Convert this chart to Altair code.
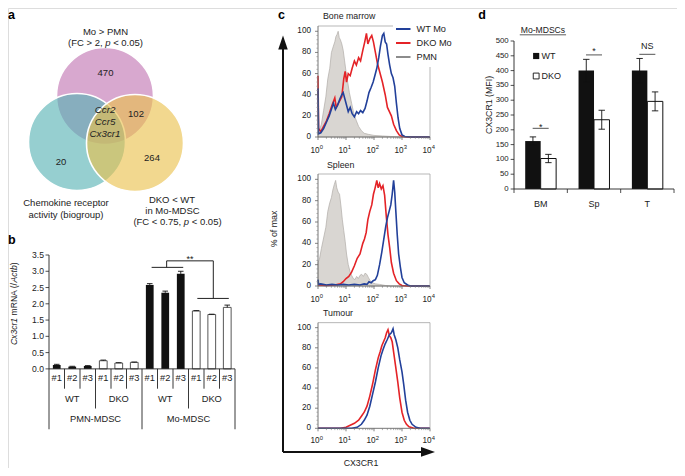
import altair as alt
import pandas as pd
import numpy as np

FONT = "Liberation Sans"
BLUE = "#22409a"
RED = "#e42327"
AX = "#555555"

# ============================ DATA ============================
# (a) Venn diagram
venn_sets = ["Mo > PMN", "Chemokine receptor activity", "DKO < WT in Mo-MDSC"]
venn_cx = [105, 77, 135]          # circle centres in venn layout units
venn_cy = [96, 142, 143]
venn_counts = ["470", "102", "20", "264"]
venn_count_x = [105.5, 136, 61, 152]
venn_count_y = [73, 114, 162, 158]
venn_core = ["Ccr2", "Ccr5", "Cx3cr1"]
venn_core_x = [105, 105, 105]
venn_core_y = [110, 122, 134]

# (b) Cx3cr1 mRNA
b_cell = ["PMN-MDSC"] * 6 + ["Mo-MDSC"] * 6
b_geno = (["WT"] * 3 + ["DKO"] * 3) * 2
b_rep = ["#1", "#2", "#3"] * 4
b_value = [0.12, 0.07, 0.09, 0.25, 0.18, 0.20, 2.58, 2.34, 2.92, 1.78, 1.67, 1.89]
b_err = [0.02, 0.01, 0.01, 0.02, 0.01, 0.01, 0.04, 0.05, 0.08, 0.01, 0.01, 0.07]
b_yticks = [0.0, 0.5, 1.0, 1.5, 2.0, 2.5, 3.0, 3.5]
b_ytick_labels = ["0.0", "0.5", "1.0", "1.5", "2.0", "2.5", "3.0", "3.5"]
b_bracket_h = [(6.12, 8.16, 3.12), (7.09, 10.1, 3.32), (9.07, 11.1, 2.165)]
b_bracket_v = [(7.09, 3.12, 3.32), (10.1, 2.165, 3.32)]
b_sig_text = ["**"]
b_sig_x = [8.6]
b_sig_y = [3.37]

# (c) flow histograms (x: log10 CX3CR1, y: % of max)
c_tissues = ["Bone marrow", "Spleen", "Tumour"]
c_xtick_exp = [0, 1, 2, 3, 4]
c_xtick_base = ["10", "10", "10", "10", "10"]
c_xtick_sup = ["0", "1", "2", "3", "4"]
c_yticks = [0, 20, 40, 60, 80, 100]
c_ytick_labels = ["0", "20", "40", "60", "80", "100"]

bm_pmn_e = [0.0, 0.06, 0.12, 0.2, 0.28, 0.35, 0.42, 0.48, 0.55, 0.6, 0.64, 0.68, 0.72, 0.76, 0.8, 0.85, 0.9,
            0.95, 1.0, 1.06, 1.12, 1.2, 1.28, 1.36, 1.45, 1.55, 1.65, 1.8, 2.0, 2.3, 2.6, 3.0, 4.0]
bm_pmn_pct = [5, 7, 12, 25, 38, 55, 65, 80, 86, 90, 95, 97, 100, 94, 92, 88, 82,
              72, 62, 52, 42, 32, 22, 16, 10, 6, 3.5, 2.5, 1.5, 1, 0.5, 0, 0]
bm_dko_e = [0.0, 0.02, 0.1, 0.2, 0.3, 0.4, 0.5, 0.6, 0.65, 0.75, 0.85, 0.92, 0.97, 1.02, 1.08, 1.15, 1.22, 1.3,
            1.37, 1.45, 1.52, 1.6, 1.67, 1.73, 1.78, 1.85, 1.92, 1.98, 2.05, 2.12, 2.2, 2.3, 2.4, 2.48, 2.55,
            2.62, 2.7, 2.8, 2.9, 3.0, 3.2, 4.0]
bm_dko_pct = [58, 8, 5, 10, 15, 22, 30, 37, 28, 33, 38, 55, 62, 52, 60, 58, 65, 72,
              68, 75, 72, 82, 90, 98, 88, 93, 96, 90, 80, 70, 62, 52, 40, 28, 24,
              20, 12, 6, 2, 0.5, 0, 0]
bm_wt_e = [0.0, 0.02, 0.1, 0.2, 0.3, 0.4, 0.5, 0.55, 0.62, 0.7, 0.78, 0.85, 0.9, 0.96, 1.02, 1.08, 1.15, 1.22,
           1.3, 1.38, 1.45, 1.52, 1.6, 1.68, 1.75, 1.82, 1.9, 1.97, 2.03, 2.1, 2.17, 2.23, 2.3, 2.35, 2.4,
           2.45, 2.5, 2.56, 2.62, 2.68, 2.74, 2.8, 2.86, 2.92, 3.0, 3.1, 3.3, 4.0]
bm_wt_pct = [46, 3, 4, 8, 14, 20, 28, 32, 26, 30, 36, 40, 42, 36, 30, 24, 28, 22,
             19, 24, 22, 25, 23, 27, 34, 42, 47, 52, 58, 65, 75, 86, 96, 98, 90,
             88, 78, 68, 60, 56, 48, 32, 18, 8, 2, 0.5, 0, 0]

sp_pmn_e = [0.0, 0.05, 0.12, 0.2, 0.28, 0.35, 0.42, 0.48, 0.53, 0.58, 0.63, 0.67, 0.72, 0.77, 0.82, 0.87, 0.92,
            0.97, 1.02, 1.08, 1.14, 1.2, 1.26, 1.32, 1.38, 1.44, 1.5, 1.56, 1.62, 1.68, 1.74, 1.8, 1.86, 1.95,
            2.05, 2.2, 2.4, 2.6, 4.0]
sp_pmn_pct = [22, 25, 35, 45, 55, 70, 78, 83, 90, 95, 99, 92, 88, 86, 75, 62, 52,
              42, 30, 20, 14, 10, 7, 6, 9, 7, 10, 11, 9, 12, 11, 8, 5, 3,
              2, 1.5, 0.5, 0, 0]
sp_dko_e = [0.0, 0.3, 0.6, 0.8, 0.9, 1.0, 1.1, 1.2, 1.3, 1.4, 1.5, 1.6, 1.66, 1.72, 1.78, 1.85, 1.92, 1.98,
            2.04, 2.1, 2.15, 2.2, 2.26, 2.32, 2.38, 2.44, 2.5, 2.56, 2.62, 2.7, 2.8, 2.9, 3.0, 3.2, 4.0]
sp_dko_pct = [1, 0.5, 1, 2, 4, 7, 9, 13, 19, 26, 30, 40, 44, 50, 62, 70, 76, 86,
              92, 99, 92, 96, 91, 94, 85, 65, 48, 36, 22, 12, 5, 2, 0.5, 0, 0]
sp_wt_e = [0.0, 0.02, 0.1, 0.3, 0.5, 0.7, 0.9, 1.1, 1.3, 1.5, 1.65, 1.75, 1.82, 1.9, 1.97, 2.05, 2.12, 2.2,
           2.28, 2.35, 2.42, 2.48, 2.54, 2.6, 2.65, 2.7, 2.74, 2.78, 2.83, 2.88, 2.94, 3.0, 3.08, 3.2, 3.3, 4.0]
sp_wt_pct = [6, 1.5, 2, 1, 1.5, 1, 1.5, 1, 1.5, 1, 2, 1.5, 4, 3, 5, 6, 10, 20,
             32, 44, 56, 64, 70, 76, 86, 99, 88, 70, 48, 30, 18, 8, 3, 1, 0, 0]

tu_dko_e = [0.0, 0.8, 1.0, 1.15, 1.3, 1.45, 1.55, 1.65, 1.75, 1.85, 1.95, 2.05, 2.15, 2.22, 2.28, 2.34, 2.4,
            2.45, 2.5, 2.55, 2.6, 2.65, 2.7, 2.77, 2.85, 2.92, 3.0, 3.08, 3.16, 3.25, 3.4, 3.6, 4.0]
tu_dko_pct = [0, 0, 1, 3, 5, 8, 12, 16, 22, 32, 44, 58, 70, 76, 82, 86, 90,
              95, 98, 92, 90, 86, 76, 62, 46, 30, 16, 8, 4, 1.5, 0.3, 0, 0]
tu_wt_e = [0.0, 1.2, 1.4, 1.55, 1.65, 1.75, 1.85, 1.95, 2.05, 2.15, 2.25, 2.32, 2.4, 2.47, 2.55, 2.62, 2.68,
           2.72, 2.78, 2.85, 2.92, 3.0, 3.06, 3.13, 3.2, 3.28, 3.36, 3.5, 3.65, 4.0]
tu_wt_pct = [0, 0, 1, 4, 8, 13, 22, 34, 46, 60, 72, 78, 84, 88, 93, 95, 99,
             93, 88, 80, 68, 56, 44, 28, 16, 8, 4, 1, 0, 0]

c_curves = {
    "Bone marrow": {"PMN": (bm_pmn_e, bm_pmn_pct), "DKO Mo": (bm_dko_e, bm_dko_pct), "WT Mo": (bm_wt_e, bm_wt_pct)},
    "Spleen": {"PMN": (sp_pmn_e, sp_pmn_pct), "DKO Mo": (sp_dko_e, sp_dko_pct), "WT Mo": (sp_wt_e, sp_wt_pct)},
    "Tumour": {"DKO Mo": (tu_dko_e, tu_dko_pct), "WT Mo": (tu_wt_e, tu_wt_pct)},
}

# (d) CX3CR1 MFI on Mo-MDSCs
d_tissue = ["BM", "Sp", "T"]
d_wt = [162, 400, 400]
d_wt_err = [14, 38, 41]
d_dko = [103, 234, 296]
d_dko_err = [14, 32, 32]
d_yticks = [0, 50, 100, 150, 200, 250, 300, 350, 400, 450, 500]
d_ytick_labels = [str(v) for v in d_yticks]
d_sig_text = ["*", "*", "NS"]
d_sig_line = [205, 453, 455]
d_sig_label = [209, 465, 484]

# ============================ LAYOUT HELPERS ============================
def X(rx):
    return rx - 8.0


def Y(ry):
    return ry - 8.0 if ry <= 300 else 292.0 + (ry - 300.0) * 0.9435


def XD(rx):
    return 506.0 + (rx - 519.0) * 0.964


def sc(domain, rng):
    return alt.Scale(domain=domain, range=rng, zero=False, nice=False)


CW = {" ": 278, "#": 556, "%": 889, "(": 333, ")": 333, "*": 389, ",": 278, "-": 333, ".": 278, "/": 278,
      "<": 584, ">": 584, "A": 667, "B": 667, "C": 722, "D": 722, "F": 611, "I": 278, "K": 667, "M": 833,
      "N": 722, "O": 778, "P": 667, "R": 722, "S": 667, "T": 611, "W": 944, "X": 667, "a": 556, "b": 556,
      "c": 500, "e": 556, "g": 556, "h": 556, "i": 222, "k": 500, "m": 833, "n": 556, "o": 556, "p": 556,
      "r": 333, "t": 278, "u": 556, "v": 500, "x": 500, "y": 500}


def tw(s, size):
    return sum(CW.get(ch, 556) for ch in s) * size / 1000.0


texts = []


def add_text(t, px, py, size=9.0, align="center", baseline="middle", style="normal", weight="normal",
             angle=0, color="#000000"):
    texts.append(dict(t=t, px=px, py=py, fs=size, align=align, baseline=baseline, style=style,
                      weight=weight, angle=angle, color=color))


def add_mixed(segs, cx, cy, size, angle=0, color="#000000"):
    total = sum(tw(s, size) for s, _ in segs)
    pos = -total / 2.0
    for s, it in segs:
        lead = tw(s[:len(s) - len(s.lstrip())], size)
        st = "italic" if it else "normal"
        if angle == 0:
            add_text(s.strip(), cx + pos + lead, cy, size, align="left", style=st, color=color)
        else:
            add_text(s.strip(), cx, cy - pos - lead, size, align="left", style=st, angle=270, color=color)
        pos += tw(s, size)


rules = []


def add_rule(x1, y1, x2, y2, color="#000000", width=1.0):
    rules.append(dict(x1=x1, y1=y1, x2=x2, y2=y2, color=color, width=width))


def text_layers(rows):
    df = pd.DataFrame(rows)
    out = []
    for key, g in df.groupby(["align", "baseline", "style", "weight", "angle", "color"]):
        align, baseline, style, weight, angle, color = key
        out.append(alt.Chart(g.reset_index(drop=True)).mark_text(
            align=str(align), baseline=str(baseline), fontStyle=str(style), fontWeight=str(weight),
            angle=float(angle), color=str(color), font=FONT).encode(
            x=alt.X("px:Q", scale=None, axis=None), y=alt.Y("py:Q", scale=None, axis=None),
            text="t:N", size=alt.Size("fs:Q", scale=None, legend=None)))
    return out


def rule_layers(rows):
    df = pd.DataFrame(rows)
    out = []
    for (color, width), g in df.groupby(["color", "width"]):
        out.append(alt.Chart(g.reset_index(drop=True)).mark_rule(color=str(color), strokeWidth=float(width)).encode(
            x=alt.X("x1:Q", scale=None, axis=None), x2="x2:Q",
            y=alt.Y("y1:Q", scale=None, axis=None), y2="y2:Q"))
    return out


ONE = pd.DataFrame({"k": [0]})

# ============================ PANEL A ============================
def base_colour(target, alpha):
    return "#%02x%02x%02x" % tuple(int(round(min(255, max(0, 255 - (255 - c) / alpha)))) for c in target)


vx = sc([0, 250], [X(0), X(250)])
vy = sc([0, 250], [Y(0), Y(250)])
venn_df = pd.DataFrame({"set": venn_sets, "cx": venn_cx, "cy": venn_cy})
venn_targets = [(216, 168, 207), (150, 207, 208), (242, 216, 143)]
VA = 0.62
a_layers = []
for s, tgt in zip(venn_sets, venn_targets):
    a_layers.append(alt.Chart(venn_df).transform_filter(alt.datum.set == s).mark_point(
        shape="circle", filled=True, size=9409, fill=base_colour(tgt, VA), fillOpacity=VA,
        stroke="white", strokeWidth=1.6, strokeOpacity=1, opacity=1).encode(
        x=alt.X("cx:Q", scale=vx, axis=None), y=alt.Y("cy:Q", scale=vy, axis=None)))
vc_df = pd.DataFrame({"t": venn_counts, "x": venn_count_x, "y": venn_count_y})
a_layers.append(alt.Chart(vc_df).mark_text(font=FONT, fontSize=9.5, color="#222222").encode(
    x=alt.X("x:Q", scale=vx, axis=None), y=alt.Y("y:Q", scale=vy, axis=None), text="t:N"))
vg_df = pd.DataFrame({"t": venn_core, "x": venn_core_x, "y": venn_core_y})
a_layers.append(alt.Chart(vg_df).mark_text(font=FONT, fontSize=9.8, fontStyle="italic", color="#222222").encode(
    x=alt.X("x:Q", scale=vx, axis=None), y=alt.Y("y:Q", scale=vy, axis=None), text="t:N"))
panel_a = alt.layer(*a_layers)

add_text("a", 0, 1, 12.5, align="left", baseline="top", weight="bold")
add_text("Mo > PMN", X(105.5), Y(32), 9.5, color="#222222")
add_mixed([("(FC > 2, ", False), ("p", True), (" < 0.05)", False)], X(105.5), Y(43), 9.5, color="#222222")
add_text("Chemokine receptor", X(66), Y(203), 9.5, color="#222222")
add_text("activity (biogroup)", X(66), Y(214.5), 9.5, color="#222222")
add_text("DKO < WT", X(172), Y(200), 9.5, color="#222222")
add_text("in Mo-MDSC", X(172.5), Y(211), 9.5, color="#222222")
add_mixed([("(FC < 0.75, ", False), ("p", True), (" < 0.05)", False)], X(177.5), Y(222), 9.5, color="#222222")

# ============================ PANEL B ============================
bx = sc([-0.5, 11.5], [X(49), X(235)])
by = sc([0, 3.5], [Y(373), Y(255)])
b_df = pd.DataFrame({"idx": list(range(12)), "cell": b_cell, "geno": b_geno, "rep": b_rep,
                     "value": b_value, "err": b_err})
base_b = alt.Chart(b_df).transform_calculate(
    x0="datum.idx - 0.25", x1="datum.idx + 0.25", top="datum.value + datum.err", zero="0",
    c0="datum.idx - 0.18", c1="datum.idx + 0.18")


def bX(f):
    return alt.X(f, scale=bx, axis=None)


def bY(f):
    return alt.Y(f, scale=by, axis=None)


b_layers = [
    base_b.transform_filter("datum.geno == 'WT'").mark_bar(color="#111111").encode(
        x=bX("x0:Q"), x2="x1:Q", y=bY("value:Q"), y2="zero:Q"),
    base_b.transform_filter("datum.geno == 'DKO'").mark_bar(fill="white", stroke="#444444", strokeWidth=0.9).encode(
        x=bX("x0:Q"), x2="x1:Q", y=bY("value:Q"), y2="zero:Q"),
    base_b.mark_rule(color="#111111", strokeWidth=0.9).encode(x=bX("idx:Q"), y=bY("value:Q"), y2="top:Q"),
    base_b.mark_rule(color="#111111", strokeWidth=0.9).encode(x=bX("c0:Q"), x2="c1:Q", y=bY("top:Q")),
]
b_tick_df = pd.DataFrame({"v": b_yticks, "lab": b_ytick_labels})
b_layers.append(alt.Chart(b_tick_df).mark_rule(color="#222222", strokeWidth=0.8).encode(
    x=alt.value(X(45.5)), x2=alt.value(X(49)), y=bY("v:Q")))
b_layers.append(alt.Chart(b_tick_df).mark_text(font=FONT, fontSize=8.6, align="right", color="#222222").encode(
    x=alt.value(X(44)), y=bY("v:Q"), text="lab:N"))
b_layers.append(alt.Chart(pd.DataFrame({"x": [-0.5], "v0": [b_yticks[0]], "v1": [b_yticks[-1]]})).mark_rule(
    color="#222222", strokeWidth=0.9).encode(x=bX("x:Q"), y=bY("v0:Q"), y2="v1:Q"))
b_layers.append(alt.Chart(pd.DataFrame({"x0": [-0.5], "x1": [11.5], "v": [0.0]})).mark_rule(
    color="#222222", strokeWidth=0.9).encode(x=bX("x0:Q"), x2="x1:Q", y=bY("v:Q")))
# table below the axis
sep_rows = []
for k in range(-1, 12):
    pos = k + 0.5
    if k in (-1, 5, 11):
        bot = Y(437)
    elif k in (2, 8):
        bot = Y(415)
    else:
        bot = Y(394)
    sep_rows.append({"bx": pos, "ytop": Y(373), "ybot": bot})
b_layers.append(alt.Chart(pd.DataFrame(sep_rows)).mark_rule(color="#222222", strokeWidth=0.9).encode(
    x=bX("bx:Q"), y=alt.Y("ytop:Q", scale=None, axis=None), y2="ybot:Q"))
b_layers.append(alt.Chart(b_df).mark_text(font=FONT, fontSize=9.3, color="#222222").encode(
    x=bX("idx:Q"), y=alt.value(Y(383)), text="rep:N"))
b_layers.append(alt.Chart(b_df).transform_aggregate(cx="mean(idx)", groupby=["cell", "geno"]).mark_text(
    font=FONT, fontSize=9.3, color="#222222").encode(x=bX("cx:Q"), y=alt.value(Y(405)), text="geno:N"))
b_layers.append(alt.Chart(b_df).transform_aggregate(cx="mean(idx)", groupby=["cell"]).mark_text(
    font=FONT, fontSize=9.3, color="#222222").encode(x=bX("cx:Q"), y=alt.value(Y(426)), text="cell:N"))
# significance bracket
bh = pd.DataFrame(b_bracket_h, columns=["x0", "x1", "y"])
bv = pd.DataFrame(b_bracket_v, columns=["x", "y0", "y1"])
b_layers.append(alt.Chart(bh).mark_rule(color="#222222", strokeWidth=1).encode(x=bX("x0:Q"), x2="x1:Q", y=bY("y:Q")))
b_layers.append(alt.Chart(bv).mark_rule(color="#222222", strokeWidth=1).encode(x=bX("x:Q"), y=bY("y0:Q"), y2="y1:Q"))
b_layers.append(alt.Chart(pd.DataFrame({"t": b_sig_text, "x": b_sig_x, "y": b_sig_y})).mark_text(
    font=FONT, fontSize=9, color="#222222").encode(x=bX("x:Q"), y=bY("y:Q"), text="t:N"))
panel_b = alt.layer(*b_layers)

add_text("b", 0, Y(243.5), 12.5, align="left", baseline="alphabetic", weight="bold")
add_mixed([("Cx3cr1", True), (" mRNA (/", False), ("Actb", True), (")", False)], X(14), Y(304), 8.6,
          angle=270, color="#222222")

# ============================ PANEL C ============================
c_layout = {"Bone marrow": (137, 26, 16, 323), "Spleen": (286, 174, 165, 327), "Tumour": (436, 324, 314, 323)}
c_minor = [float(np.log10(k)) + d for d in range(4) for k in range(2, 10)]
c_minor_y = [v for v in range(4, 104, 4) if v % 20 != 0]
c_panels = []
for tissue in c_tissues:
    yb, yt, ty, tx = c_layout[tissue]
    cx = sc([0, 4], [X(318), X(430)])
    cy = sc([0, 105], [Y(yb), Y(yt)])
    L = []
    curves = c_curves[tissue]
    if "PMN" in curves:
        e, p = curves["PMN"]
        L.append(alt.Chart(pd.DataFrame({"e": e, "pct": p, "z": 0})).mark_area(
            fill="#d9d6d2", stroke="#b0aca8", strokeWidth=0.7, opacity=1).encode(
            x=alt.X("e:Q", scale=cx, axis=None), y=alt.Y("pct:Q", scale=cy, axis=None), y2="z:Q"))
    for ser, col in (("DKO Mo", RED), ("WT Mo", BLUE)):
        e, p = curves[ser]
        L.append(alt.Chart(pd.DataFrame({"e": e, "pct": p})).mark_line(color=col, strokeWidth=1.6).encode(
            x=alt.X("e:Q", scale=cx, axis=None), y=alt.Y("pct:Q", scale=cy, axis=None)))
    frame = pd.DataFrame({"x0": [0, 0, 0, 4], "x1": [4, 0, 4, 4], "y0": [0, 0, 105, 0], "y1": [0, 105, 105, 105],
                          "kind": ["axis", "axis", "box", "box"]})
    L.append(alt.Chart(frame).transform_filter("datum.kind == 'box'").mark_rule(color="#a5a5a5", strokeWidth=0.8).encode(
        x=alt.X("x0:Q", scale=cx, axis=None), x2="x1:Q", y=alt.Y("y0:Q", scale=cy, axis=None), y2="y1:Q"))
    L.append(alt.Chart(frame).transform_filter("datum.kind == 'axis'").mark_rule(color="#666666", strokeWidth=0.9).encode(
        x=alt.X("x0:Q", scale=cx, axis=None), x2="x1:Q", y=alt.Y("y0:Q", scale=cy, axis=None), y2="y1:Q"))
    # ticks
    L.append(alt.Chart(pd.DataFrame({"e": c_xtick_exp})).mark_rule(color="#666666", strokeWidth=0.8).encode(
        x=alt.X("e:Q", scale=cx, axis=None), y=alt.value(Y(yb)), y2=alt.value(Y(yb) + 3)))
    L.append(alt.Chart(pd.DataFrame({"e": c_minor})).mark_rule(color="#777777", strokeWidth=0.6).encode(
        x=alt.X("e:Q", scale=cx, axis=None), y=alt.value(Y(yb)), y2=alt.value(Y(yb) + 1.8)))
    L.append(alt.Chart(pd.DataFrame({"v": c_yticks})).mark_rule(color="#666666", strokeWidth=0.8).encode(
        x=alt.value(X(318) - 3), x2=alt.value(X(318)), y=alt.Y("v:Q", scale=cy, axis=None)))
    L.append(alt.Chart(pd.DataFrame({"v": c_minor_y})).mark_rule(color="#888888", strokeWidth=0.6).encode(
        x=alt.value(X(318) - 1.6), x2=alt.value(X(318)), y=alt.Y("v:Q", scale=cy, axis=None)))
    # tick labels
    L.append(alt.Chart(pd.DataFrame({"v": c_yticks, "lab": c_ytick_labels})).mark_text(
        font=FONT, fontSize=8.2, align="right", color="#222222").encode(
        x=alt.value(X(311)), y=alt.Y("v:Q", scale=cy, axis=None), text="lab:N"))
    xl = pd.DataFrame({"e": c_xtick_exp, "b": c_xtick_base, "s": c_xtick_sup})
    L.append(alt.Chart(xl).mark_text(font=FONT, fontSize=8.2, align="right", dx=1.5, color="#222222").encode(
        x=alt.X("e:Q", scale=cx, axis=None), y=alt.value(Y(yb + 13.5)), text="b:N"))
    L.append(alt.Chart(xl).mark_text(font=FONT, fontSize=5.8, align="left", dx=1.8, color="#222222").encode(
        x=alt.X("e:Q", scale=cx, axis=None), y=alt.value(Y(yb + 13.5) - 3.2), text="s:N"))
    c_panels.append(alt.layer(*L))
    add_text(tissue, X(tx), Y(ty), 8.8, align="left", color="#222222")

# legend box for c (drawn over the frame)
legend_bg = alt.Chart(ONE).mark_rect(fill="white", stroke=None).encode(
    x=alt.value(X(393)), x2=alt.value(X(462)), y=alt.value(Y(21)), y2=alt.value(Y(67)))
for lab, col, ry in (("WT Mo", BLUE, 29), ("DKO Mo", RED, 43), ("PMN", "#8c8c8c", 57)):
    add_rule(X(396), Y(ry), X(410.5), Y(ry), col, 2.0)
    add_text(lab, X(416.5), Y(ry), 9.2, align="left", color="#222222")
add_text("c", X(278), 1, 12.5, align="left", baseline="top", weight="bold")
add_text("% of max", X(274), Y(229), 8.8, angle=270, color="#222222")
add_text("CX3CR1", X(361), Y(473), 8.8, color="#222222")
# big arrow axes
add_rule(X(283), Y(461), X(283), Y(47), "#111111", 2.0)
add_rule(X(283), Y(461), X(424), Y(461), "#111111", 2.0)
arrows = [
    alt.Chart(ONE).mark_point(shape="M0,-1L-0.68,1L0.68,1Z", filled=True, size=196, color="#111111", opacity=1).encode(
        x=alt.value(X(283)), y=alt.value(Y(42.5))),
    alt.Chart(ONE).mark_point(shape="M1,0L-1,-0.7L-1,0.7Z", filled=True, size=196, color="#111111", opacity=1).encode(
        x=alt.value(X(428)), y=alt.value(Y(461))),
]

# ============================ PANEL D ============================
dx = sc([-0.5, 2.5], [XD(519), XD(685)])
dy = sc([0, 500], [Y(189), Y(41)])
d_df = pd.DataFrame({"idx": [0, 1, 2, 0, 1, 2], "tissue": d_tissue * 2, "geno": ["WT"] * 3 + ["DKO"] * 3,
                     "value": d_wt + d_dko, "err": d_wt_err + d_dko_err})
base_d = alt.Chart(d_df).transform_calculate(
    x0="datum.geno == 'WT' ? datum.idx - 0.29 : datum.idx",
    x1="datum.geno == 'WT' ? datum.idx : datum.idx + 0.29",
    xc="datum.geno == 'WT' ? datum.idx - 0.145 : datum.idx + 0.145",
    c0="datum.geno == 'WT' ? datum.idx - 0.205 : datum.idx + 0.085",
    c1="datum.geno == 'WT' ? datum.idx - 0.085 : datum.idx + 0.205",
    lo="datum.value - datum.err", hi="datum.value + datum.err", zero="0")


def dX(f):
    return alt.X(f, scale=dx, axis=None)


def dY(f):
    return alt.Y(f, scale=dy, axis=None)


d_layers = [
    base_d.transform_filter("datum.geno == 'WT'").mark_bar(color="#111111").encode(
        x=dX("x0:Q"), x2="x1:Q", y=dY("value:Q"), y2="zero:Q"),
    base_d.transform_filter("datum.geno == 'DKO'").mark_bar(fill="white", stroke="#111111", strokeWidth=1).encode(
        x=dX("x0:Q"), x2="x1:Q", y=dY("value:Q"), y2="zero:Q"),
    base_d.mark_rule(color="#111111", strokeWidth=0.9).encode(x=dX("xc:Q"), y=dY("lo:Q"), y2="hi:Q"),
    base_d.mark_rule(color="#111111", strokeWidth=0.9).encode(x=dX("c0:Q"), x2="c1:Q", y=dY("hi:Q")),
    base_d.mark_rule(color="#111111", strokeWidth=0.9).encode(x=dX("c0:Q"), x2="c1:Q", y=dY("lo:Q")),
]
d_tick_df = pd.DataFrame({"v": d_yticks, "lab": d_ytick_labels})
d_layers.append(alt.Chart(d_tick_df).mark_rule(color="#222222", strokeWidth=0.8).encode(
    x=alt.value(XD(515.5)), x2=alt.value(XD(519)), y=dY("v:Q")))
d_layers.append(alt.Chart(d_tick_df).mark_text(font=FONT, fontSize=7.8, align="right", color="#222222").encode(
    x=alt.value(XD(513.5)), y=dY("v:Q"), text="lab:N"))
d_layers.append(alt.Chart(pd.DataFrame({"x": [-0.5], "v0": [0], "v1": [500]})).mark_rule(
    color="#222222", strokeWidth=0.9).encode(x=dX("x:Q"), y=dY("v0:Q"), y2="v1:Q"))
d_layers.append(alt.Chart(pd.DataFrame({"x0": [-0.5], "x1": [2.5], "v": [0]})).mark_rule(
    color="#222222", strokeWidth=0.9).encode(x=dX("x0:Q"), x2="x1:Q", y=dY("v:Q")))
d_layers.append(alt.Chart(pd.DataFrame({"x": [-0.5, 0.5, 1.5, 2.5]})).mark_rule(color="#222222", strokeWidth=0.8).encode(
    x=dX("x:Q"), y=alt.value(Y(189)), y2=alt.value(Y(193))))
d_layers.append(alt.Chart(pd.DataFrame({"t": d_tissue, "x": [0, 1, 2]})).mark_text(
    font=FONT, fontSize=9, color="#222222").encode(x=dX("x:Q"), y=alt.value(Y(203.5)), text="t:N"))
sig_df = pd.DataFrame({"t": d_sig_text, "x": [0, 1, 2], "yl": d_sig_line, "yt": d_sig_label})
d_layers.append(alt.Chart(sig_df).transform_calculate(a="datum.x - 0.15", b="datum.x + 0.15").mark_rule(
    color="#555555", strokeWidth=1).encode(x=dX("a:Q"), x2="b:Q", y=dY("yl:Q")))
d_layers.append(alt.Chart(sig_df).mark_text(font=FONT, fontSize=9, color="#222222").encode(
    x=dX("x:Q"), y=dY("yt:Q"), text="t:N"))
panel_d = alt.layer(*d_layers)

add_text("d", XD(482), 1, 12.5, align="left", baseline="top", weight="bold")
add_text("Mo-MDSCs", XD(549), Y(30), 8.6, color="#222222")
add_rule(XD(525), Y(34.8), XD(573), Y(34.8), "#333333", 0.8)
add_text("CX3CR1 (MFI)", XD(493), Y(105), 8.8, angle=270, color="#222222")
add_text("WT", XD(547.5), Y(56), 9, align="left", color="#222222")
add_text("DKO", XD(547.5), Y(76), 9, align="left", color="#222222")
d_legend = [
    alt.Chart(ONE).mark_square(size=38, color="#111111", opacity=1).encode(x=alt.value(XD(542)), y=alt.value(Y(56))),
    alt.Chart(ONE).mark_square(size=34, fill="white", stroke="#111111", strokeWidth=0.9, opacity=1).encode(
        x=alt.value(XD(542)), y=alt.value(Y(76))),
]

# ============================ ASSEMBLE ============================
chart = alt.layer(
    panel_a, panel_b, *c_panels, legend_bg, panel_d, *arrows, *d_legend,
    *rule_layers(rules), *text_layers(texts)
).resolve_scale(x="independent", y="independent").properties(
    width=669, height=460, padding=0, autosize=alt.AutoSizeParams(type="none")
).configure_view(stroke=None).configure(background="white")

chart.save("out.html", embed_options={"renderer": "svg", "actions": False})
